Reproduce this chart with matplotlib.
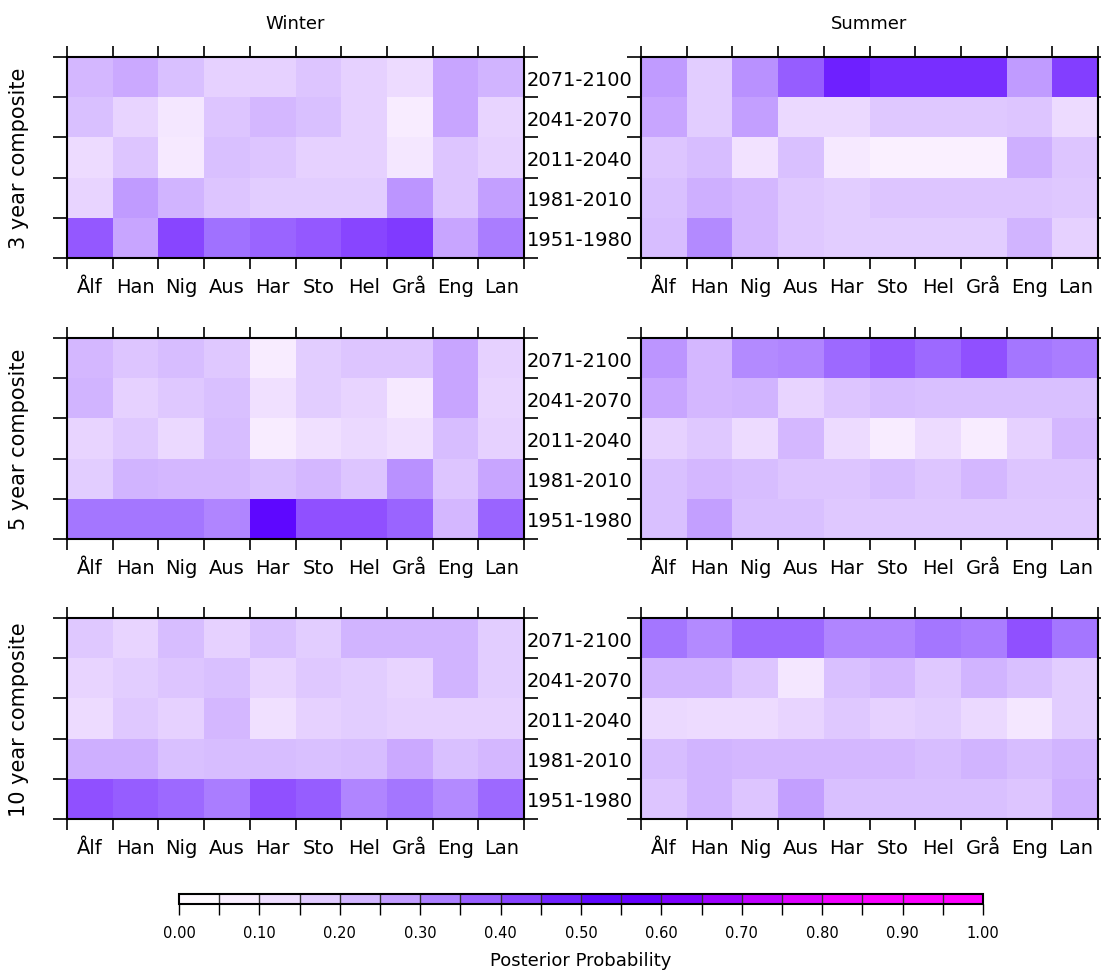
import numpy as np
import matplotlib
matplotlib.use("Agg")
import matplotlib.pyplot as plt
from matplotlib.colors import LinearSegmentedColormap, Normalize
from matplotlib.cm import ScalarMappable

# === DATA ===
stations = ['Ålf', 'Han', 'Nig', 'Aus', 'Har', 'Sto', 'Hel', 'Grå', 'Eng', 'Lan']
periods = ['2071-2100', '2041-2070', '2011-2040', '1981-2010', '1951-1980']  # top to bottom
seasons = ['Winter', 'Summer']
composites = ['3 year composite', '5 year composite', '10 year composite']

# posterior probabilities, rows = periods (top to bottom), cols = stations
winter_3yr = [
    [0.22, 0.25, 0.20, 0.16, 0.16, 0.19, 0.16, 0.13, 0.26, 0.23],
    [0.20, 0.15, 0.10, 0.19, 0.22, 0.20, 0.16, 0.08, 0.26, 0.15],
    [0.13, 0.19, 0.09, 0.20, 0.19, 0.16, 0.16, 0.10, 0.19, 0.16],
    [0.15, 0.28, 0.23, 0.19, 0.17, 0.17, 0.17, 0.29, 0.19, 0.27],
    [0.39, 0.26, 0.42, 0.35, 0.37, 0.39, 0.42, 0.44, 0.26, 0.33],
]
summer_3yr = [
    [0.28, 0.17, 0.30, 0.38, 0.48, 0.46, 0.46, 0.46, 0.28, 0.43],
    [0.26, 0.17, 0.27, 0.14, 0.14, 0.18, 0.18, 0.18, 0.19, 0.13],
    [0.19, 0.21, 0.11, 0.20, 0.09, 0.07, 0.07, 0.07, 0.24, 0.19],
    [0.20, 0.24, 0.22, 0.18, 0.17, 0.19, 0.19, 0.19, 0.19, 0.18],
    [0.21, 0.31, 0.22, 0.18, 0.17, 0.17, 0.17, 0.17, 0.23, 0.16],
]
winter_5yr = [
    [0.22, 0.19, 0.21, 0.18, 0.08, 0.17, 0.19, 0.19, 0.26, 0.16],
    [0.23, 0.16, 0.18, 0.20, 0.12, 0.17, 0.15, 0.09, 0.26, 0.15],
    [0.15, 0.18, 0.14, 0.21, 0.08, 0.12, 0.14, 0.12, 0.21, 0.16],
    [0.17, 0.23, 0.22, 0.22, 0.20, 0.22, 0.19, 0.30, 0.19, 0.26],
    [0.34, 0.34, 0.34, 0.32, 0.53, 0.40, 0.40, 0.37, 0.22, 0.37],
]
summer_5yr = [
    [0.29, 0.22, 0.31, 0.32, 0.36, 0.39, 0.36, 0.40, 0.34, 0.33],
    [0.26, 0.22, 0.23, 0.15, 0.19, 0.21, 0.20, 0.20, 0.20, 0.20],
    [0.16, 0.18, 0.13, 0.22, 0.13, 0.08, 0.13, 0.08, 0.16, 0.22],
    [0.20, 0.22, 0.21, 0.19, 0.19, 0.21, 0.19, 0.22, 0.19, 0.19],
    [0.20, 0.27, 0.20, 0.20, 0.18, 0.18, 0.18, 0.18, 0.18, 0.18],
]
winter_10yr = [
    [0.18, 0.15, 0.21, 0.16, 0.20, 0.17, 0.23, 0.23, 0.23, 0.17],
    [0.15, 0.17, 0.19, 0.20, 0.15, 0.18, 0.17, 0.15, 0.23, 0.17],
    [0.13, 0.18, 0.16, 0.22, 0.12, 0.16, 0.17, 0.16, 0.16, 0.16],
    [0.24, 0.24, 0.20, 0.21, 0.21, 0.20, 0.21, 0.25, 0.20, 0.22],
    [0.40, 0.38, 0.36, 0.33, 0.40, 0.38, 0.32, 0.34, 0.31, 0.36],
]
summer_10yr = [
    [0.34, 0.31, 0.36, 0.36, 0.32, 0.32, 0.34, 0.33, 0.40, 0.34],
    [0.23, 0.23, 0.19, 0.10, 0.20, 0.22, 0.18, 0.23, 0.20, 0.17],
    [0.14, 0.13, 0.13, 0.15, 0.18, 0.16, 0.17, 0.14, 0.10, 0.17],
    [0.21, 0.23, 0.22, 0.22, 0.22, 0.22, 0.21, 0.23, 0.21, 0.23],
    [0.19, 0.23, 0.19, 0.27, 0.20, 0.20, 0.20, 0.20, 0.19, 0.24],
]

panels = [
    [winter_3yr, summer_3yr],
    [winter_5yr, summer_5yr],
    [winter_10yr, summer_10yr],
]

# colour scale: white -> lavender -> violet -> blue-violet -> magenta
cmap_stops = [0.00, 0.05, 0.10, 0.15, 0.20, 0.25, 0.30, 0.35, 0.40, 0.45,
              0.50, 0.55, 0.60, 0.65, 0.70, 0.75, 0.80, 0.85, 1.00]
cmap_colors = ['#ffffff', '#fdf5ff', '#f4e6ff', '#e8d4ff', '#d9c0ff', '#cbaaff',
               '#b890ff', '#a070ff', '#9050ff', '#7c34ff', '#6410ff', '#5a00ff',
               '#6e00ff', '#8c00ff', '#b000ff', '#d000ff', '#e800ff', '#f800ff',
               '#ff00ff']
cmap = LinearSegmentedColormap.from_list('posterior', list(zip(cmap_stops, cmap_colors)))
norm = Normalize(0, 1)

# === LAYOUT (figure pixels -> fractions) ===
W, H = 1101, 978
plt.rcParams['font.family'] = ['DejaVu Sans']
fig = plt.figure(figsize=(W / 100, H / 100), dpi=100)

col_x = [67, 641]
panel_w = 457
row_top = [58, 339, 619]
panel_h = 201
FS = 14

for r in range(3):
    for c in range(2):
        left = col_x[c] / W
        bottom = 1 - (row_top[r] + panel_h) / H
        ax = fig.add_axes([left, bottom, panel_w / W, panel_h / H])
        data = np.array(panels[r][c])
        ax.pcolormesh(np.arange(11), np.arange(6), data, cmap=cmap, norm=norm)
        ax.set_xlim(0, 10)
        ax.set_ylim(5, 0)

        # tick marks at cell edges, labels at cell centres
        ax.set_xticks(np.arange(11))
        ax.set_xticklabels([])
        ax.set_xticks(np.arange(10) + 0.5, minor=True)
        ax.set_xticklabels(stations, minor=True, fontsize=FS)
        ax.set_yticks(np.arange(6))
        ax.set_yticklabels([])
        ax.set_yticks(np.arange(5) + 0.5, minor=True)
        ax.tick_params(axis='x', which='major', direction='out', length=8, width=1.2,
                       top=True, bottom=True)
        ax.tick_params(axis='y', which='major', direction='out', length=10, width=1.2,
                       left=True, right=True)
        ax.tick_params(which='minor', length=0)
        ax.tick_params(axis='x', which='minor', pad=14)
        if c == 1:
            ax.set_yticklabels(periods, minor=True, fontsize=FS)
            ax.tick_params(axis='y', which='minor', pad=6)
        else:
            ax.set_yticklabels([], minor=True)
            ax.set_ylabel(composites[r], fontsize=15, labelpad=14)
        for sp in ax.spines.values():
            sp.set_linewidth(1.5)

        if r == 0:
            fig.text((col_x[c] + panel_w / 2) / W, 1 - 24 / H, seasons[c],
                     ha='center', va='center', fontsize=13)

# === COLORBAR ===
cax = fig.add_axes([179 / W, 1 - 905 / H, 804 / W, 10 / H])
sm = ScalarMappable(norm=norm, cmap=cmap)
cb = fig.colorbar(sm, cax=cax, orientation='horizontal',
                  boundaries=np.linspace(0, 1, 21), drawedges=True)
cb.outline.set_linewidth(1.5)
cb.dividers.set_linewidth(1.0)
cb.dividers.set_color('#333333')
cb.set_ticks(np.arange(0, 1.01, 0.1))
cb.set_ticklabels([f'{v:.2f}' for v in np.arange(0, 1.01, 0.1)])
cax.set_xticks(np.arange(0.05, 1.0, 0.1), minor=True)
cax.tick_params(which='both', direction='out', length=8, width=1.0, pad=7)
for lbl in cax.get_xticklabels():
    lbl.set_fontsize(10.5)
fig.text((179 + 402) / W, 1 - 961 / H, 'Posterior Probability',
         ha='center', va='center', fontsize=13)

plt.savefig('out.png', dpi=100)
